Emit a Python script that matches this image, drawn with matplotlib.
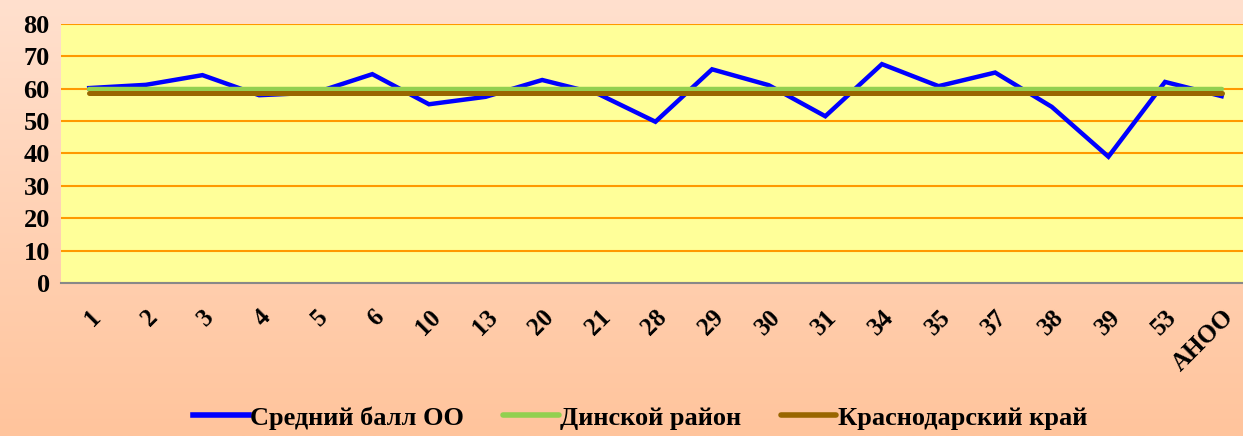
import numpy as np
import matplotlib
matplotlib.use('Agg')
import matplotlib.pyplot as plt

# data
schools = ['1', '2', '3', '4', '5', '6', '10', '13', '20', '21', '28',
           '29', '30', '31', '34', '35', '37', '38', '39', '53', 'АНОО']
school_avg = [60.2, 61.2, 64.2, 58.0, 58.8, 64.5, 55.2, 57.5, 62.7, 58.3, 49.8,
              66.0, 61.1, 51.5, 67.6, 60.8, 65.0, 54.4, 39.0, 62.1, 57.7]
district_avg = [60.0] * len(schools)
region_avg = [58.6] * len(schools)

plt.rcParams['font.family'] = ['Liberation Serif', 'DejaVu Serif']
plt.rcParams['font.weight'] = 'bold'

fig = plt.figure(figsize=(12.43, 4.36), dpi=100)

# peach gradient behind everything
bg = fig.add_axes([0, 0, 1, 1], zorder=-10)
top = np.array([255, 224, 206]) / 255
bottom = np.array([255, 196, 156]) / 255
t = np.linspace(0, 1, 256)[:, None]
grad = top + (bottom - top) * t
bg.imshow(grad[:, None, :].repeat(2, axis=1), aspect='auto', extent=[0, 1, 0, 1])
bg.axis('off')

ax = fig.add_axes([0.049, 0.351, 0.9566, 0.594])
ax.set_facecolor('#FFFF99')

x = np.arange(len(schools))
ax.plot(x, school_avg, color='#0000FF', lw=3.2, label='Средний балл ОО',
        solid_joinstyle='miter', zorder=3)
ax.plot(x, district_avg, color='#92D050', lw=3.2, label='Динской район',
        solid_capstyle='round', zorder=4)
ax.plot(x, region_avg, color='#996600', lw=3.6, label='Краснодарский край',
        solid_capstyle='round', zorder=5)

ax.set_xlim(-0.5, len(schools) - 0.5)
ax.set_ylim(0, 80)
ax.set_yticks(range(0, 81, 10))
ax.yaxis.grid(True, color='#FF9900', lw=1.5)
ax.set_axisbelow(True)

for side in ['top', 'right', 'left']:
    ax.spines[side].set_visible(False)
ax.spines['bottom'].set_color('#888888')
ax.spines['bottom'].set_linewidth(1.5)
ax.tick_params(axis='both', length=0)
ax.tick_params(axis='y', labelsize=19, pad=8)

ax.set_xticks(x)
ax.set_xticklabels(schools, rotation=45, ha='right', rotation_mode='anchor',
                   fontsize=18, fontweight='bold')
ax.tick_params(axis='x', pad=16)
for lbl in ax.get_yticklabels():
    lbl.set_fontweight('bold')

leg = fig.legend(loc='lower center', bbox_to_anchor=(0.515, -0.04), ncol=3,
                 frameon=False, prop={'size': 19, 'weight': 'bold'},
                 handlelength=2.1, handletextpad=0.05, columnspacing=1.5)
for line in leg.get_lines():
    line.set_linewidth(4)

fig.savefig('out.png', dpi=100)
